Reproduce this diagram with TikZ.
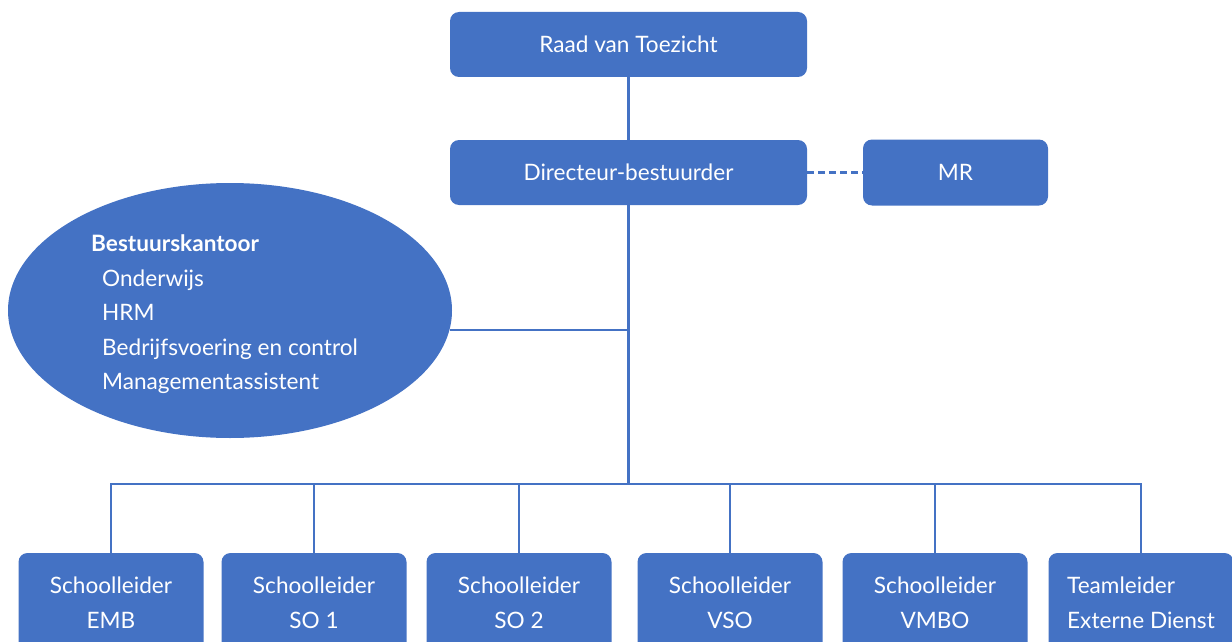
\documentclass[tikz,border=0pt]{standalone}
\usepackage{fontspec}
\setmainfont{Lato}
\usetikzlibrary{shapes.geometric}
\definecolor{orgblue}{HTML}{4472C4}

\begin{document}
\begin{tikzpicture}[x=1pt,y=-1pt,
  box/.style={fill=orgblue,rounded corners=9pt,text=white,inner sep=0pt,
    font=\fontsize{22.6}{35}\selectfont,align=center},
  school/.style={box,minimum width=185pt,minimum height=100pt},
  link/.style={draw=orgblue,line width=2.4pt}]
\useasboundingbox (0,0) rectangle (1232,642);
\clip (0,0) rectangle (1232,642);

\node[box,minimum width=357pt,minimum height=65pt] (raad) at (628.5,44.5) {Raad van Toezicht};
\node[box,minimum width=357pt,minimum height=65pt] (dir) at (628.5,172.5) {Directeur-bestuurder};
\node[box,minimum width=185pt,minimum height=66pt] (mr) at (955.5,172.5) {MR};

\node[ellipse,fill=orgblue,inner sep=0pt,minimum width=444pt,minimum height=255pt] (bk) at (230,310.5) {};
\node[anchor=north west,inner sep=0pt,text=white,align=left,
  font=\fontsize{22.6}{34.5}\selectfont] (bktext) at (91,235)
  {{\bfseries Bestuurskantoor}\\
   \hspace*{11pt}Onderwijs\\
   \hspace*{11pt}HRM\\
   \hspace*{11pt}Bedrijfsvoering en control\\
   \hspace*{11pt}Managementassistent};

\node[school] (emb) at (111,603) {Schoolleider\\EMB};
\node[school] (so1) at (314,603) {Schoolleider\\SO 1};
\node[school] (so2) at (519,603) {Schoolleider\\SO 2};
\node[school] (vso) at (730,603) {Schoolleider\\VSO};
\node[school] (vmbo) at (935,603) {Schoolleider\\VMBO};
\node[school,align=left] (tl) at (1141,603) {Teamleider\\Externe Dienst};

\coordinate (bus) at (628.5,484);

\draw[link] (raad.south) -- (dir.north);
\draw[link,dash pattern=on 7pt off 4pt] (dir.east) -- (mr.west);
\draw[link] (dir.south) -- (bus);
\draw[link] (bk.-5.6) -- (bk.-5.6 -| bus);

\draw[link] (emb.north) |- (bus);
\draw[link] (so1.north) |- (bus);
\draw[link] (so2.north) |- (bus);
\draw[link] (vso.north) |- (bus);
\draw[link] (vmbo.north) |- (bus);
\draw[link] (tl.north) |- (bus);
\end{tikzpicture}
\end{document}
